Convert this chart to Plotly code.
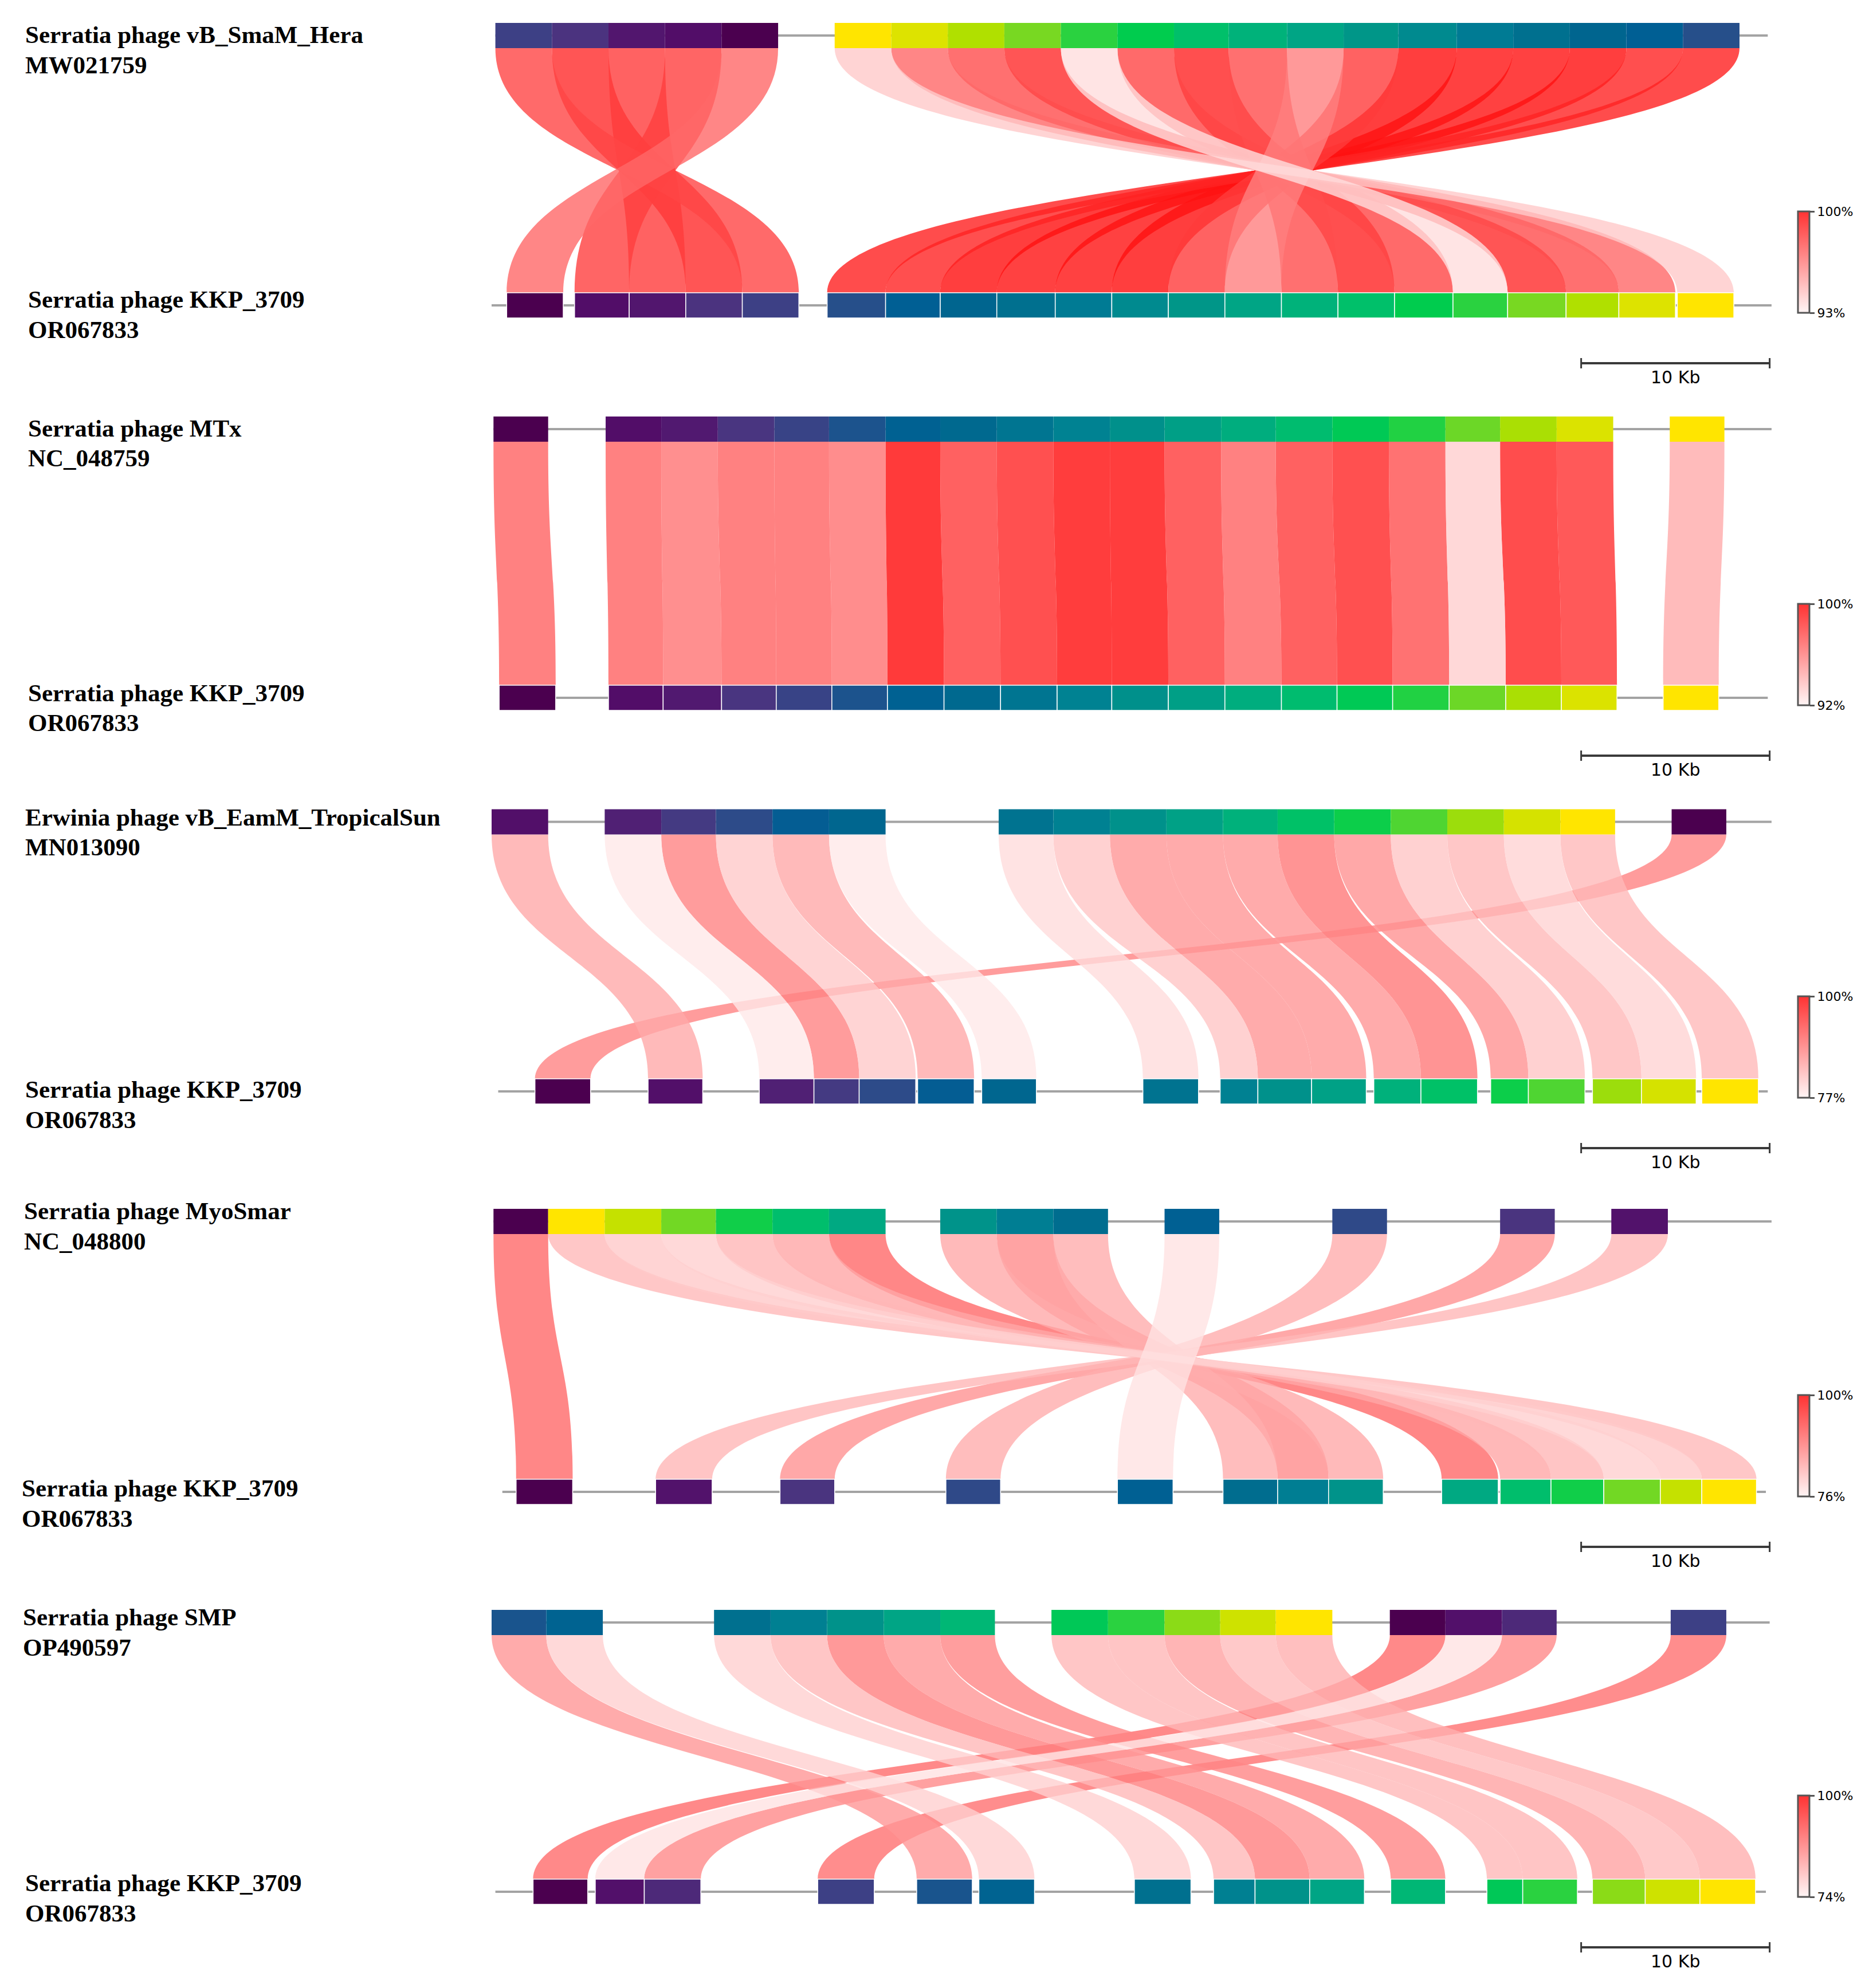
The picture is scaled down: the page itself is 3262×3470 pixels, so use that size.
import plotly.graph_objects as go
from plotly.colors import sample_colorscale, hex_to_rgb

# page size (px) and the kb -> pixel scale
W, H = 3262, 3470
OFF = 8                      # default body margin of the html page
FIG_W, FIG_H = W - 2 * OFF, H - 2 * OFF
PX_PER_KB = 32.9
X0 = 858                     # page pixel column of 0 kb

# ---------------- data (kb positions, % identity) ----------------
REF_NAME = "Serratia phage KKP_3709"
REF_ACC = "OR067833"

QUERY_NAMES = ["Serratia phage vB_SmaM_Hera", "Serratia phage MTx",
               "Erwinia phage vB_EamM_TropicalSun", "Serratia phage MyoSmar",
               "Serratia phage SMP"]
QUERY_ACCS = ["MW021759", "NC_048759", "MN013090", "NC_048800", "OP490597"]
ID_MIN = [93, 92, 77, 76, 74]

# genome line spans (kb): query, reference
QUERY_SPAN = [(0.2, 67.7), (0.1, 67.9), (0.0, 67.9), (0.1, 67.9), (0.0, 67.8)]
REF_SPAN = [(0.0, 67.9), (0.4, 67.7), (0.35, 67.7), (0.57, 67.6), (0.2, 67.6)]

# panel 1 : Hera
HERA_BLOCKS = [(0.2, 3.2), (3.2, 6.2), (6.2, 9.2), (9.2, 12.2), (12.2, 15.2),
               (18.2, 21.2), (21.2, 24.2), (24.2, 27.2), (27.2, 30.2), (30.2, 33.2),
               (33.2, 36.2), (36.2, 39.1), (39.1, 42.2), (42.2, 45.2), (45.2, 48.1),
               (48.1, 51.2), (51.2, 54.2), (54.2, 57.2), (57.2, 60.2), (60.2, 63.2),
               (63.2, 66.2)]
HERA_REF = [(0.8, 3.8), (4.4, 7.3), (7.3, 10.3), (10.3, 13.3), (13.3, 16.3),
            (17.8, 20.9), (20.9, 23.8), (23.8, 26.8), (26.8, 29.9), (29.9, 32.9),
            (32.9, 35.9), (35.9, 38.9), (38.9, 41.9), (41.9, 44.9), (44.9, 47.9),
            (47.9, 51.0), (51.0, 53.9), (53.9, 57.0), (57.0, 59.8), (59.8, 62.8),
            (62.9, 65.9)]
HERA_MATCH = [4, 3, 2, 1, 0, 20, 19, 18, 17, 16, 15, 14, 13, 12, 11, 10, 9, 8, 7, 6, 5]
HERA_ID = [98.0, 98.8, 98.3, 98.2, 97.0, 94.2, 97.0, 97.8, 98.8, 93.6, 98.0,
           99.0, 97.8, 96.3, 98.3, 99.6, 99.5, 99.5, 99.6, 99.0, 99.1]

# panel 2 : MTx
MTX_BLOCKS = [(0.1, 3.0), (6.05, 9.0), (9.0, 12.0), (12.0, 15.0), (15.0, 17.9),
              (17.9, 20.9), (20.9, 23.8), (23.8, 26.8), (26.8, 29.8), (29.8, 32.8),
              (32.8, 35.7), (35.7, 38.7), (38.7, 41.6), (41.6, 44.6), (44.6, 47.6),
              (47.6, 50.6), (50.6, 53.5), (53.5, 56.5), (56.5, 59.5), (62.5, 65.4)]
MTX_REF = [(0.4, 3.4), (6.2, 9.1), (9.1, 12.2), (12.2, 15.1), (15.1, 18.05),
           (18.05, 21.0), (21.0, 24.0), (24.0, 27.0), (27.0, 30.0), (30.0, 32.9),
           (32.9, 35.9), (35.9, 38.9), (38.9, 41.9), (41.9, 44.85), (44.85, 47.8),
           (47.8, 50.8), (50.8, 53.8), (53.8, 56.75), (56.75, 59.7), (62.15, 65.1)]
MTX_MATCH = list(range(20))
MTX_ID = [96.8, 96.8, 96.2, 96.8, 96.8, 96.3, 99.7, 98.1, 98.8, 99.6, 99.6,
          98.1, 96.8, 98.1, 98.8, 97.4, 93.2, 98.9, 98.4, 94.4]

# panel 3 : TropicalSun
TROP_BLOCKS = [(0.0, 3.0), (6.0, 9.0), (9.0, 11.9), (11.9, 14.9), (14.9, 17.9),
               (17.9, 20.9), (26.9, 29.8), (29.8, 32.8), (32.8, 35.8), (35.8, 38.8),
               (38.8, 41.7), (41.7, 44.7), (44.7, 47.7), (47.7, 50.7), (50.7, 53.7),
               (53.7, 56.7), (56.7, 59.6), (62.6, 65.5)]
TROP_REF = [(2.3, 5.25), (8.3, 11.2), (14.2, 17.1), (17.1, 19.5), (19.5, 22.5),
            (22.6, 25.6), (26.0, 28.9), (34.55, 37.5), (38.65, 40.65), (40.65, 43.5),
            (43.5, 46.4), (46.8, 49.3), (49.3, 52.3), (53.0, 55.0), (55.0, 58.0),
            (58.4, 61.0), (61.0, 63.9), (64.2, 67.2)]
TROP_MATCH = [1, 2, 3, 4, 5, 6, 7, 8, 9, 10, 11, 12, 13, 14, 15, 16, 17, 0]
TROP_ID = [84.0, 77.9, 87.6, 80.9, 84.0, 77.9, 79.1, 81.2, 85.8, 85.8, 85.8,
           88.5, 86.1, 81.2, 82.4, 80.0, 82.4, 87.6]

# panel 4 : MyoSmar
MYO_BLOCKS = [(0.1, 3.0), (3.0, 6.0), (6.0, 9.0), (9.0, 11.9), (11.9, 14.9),
              (14.9, 17.9), (17.9, 20.9), (23.8, 26.8), (26.8, 29.8), (29.8, 32.7),
              (35.7, 38.6), (44.6, 47.5), (53.5, 56.4), (59.4, 62.4)]
MYO_REF = [(1.3, 4.3), (8.7, 11.7), (15.3, 18.2), (24.1, 27.0), (33.2, 36.15),
           (38.8, 41.7), (41.7, 44.4), (44.4, 47.3), (50.4, 53.4), (53.5, 56.2),
           (56.2, 59.0), (59.0, 62.0), (62.0, 64.2), (64.2, 67.1)]
MYO_MATCH = [0, 13, 12, 11, 10, 9, 8, 7, 6, 5, 4, 3, 2, 1]
MYO_ID = [89.6, 81.7, 80.1, 79.5, 82.0, 83.6, 89.6, 83.3, 86.1, 82.9, 77.6,
          82.9, 85.5, 82.0]

# panel 5 : SMP
SMP_BLOCKS = [(0.0, 2.9), (2.9, 5.9), (11.8, 14.8), (14.8, 17.8), (17.8, 20.8),
              (20.8, 23.8), (23.8, 26.7), (29.7, 32.7), (32.7, 35.7), (35.7, 38.65),
              (38.65, 41.6), (41.6, 44.6), (47.65, 50.6), (50.6, 53.6), (53.6, 56.5),
              (62.55, 65.5)]
SMP_REF = [(2.2, 5.1), (5.5, 8.1), (8.1, 11.1), (17.3, 20.3), (22.55, 25.5),
           (25.85, 28.8), (34.1, 37.1), (38.3, 40.5), (40.5, 43.4), (43.4, 46.3),
           (47.7, 50.6), (52.8, 54.7), (54.7, 57.6), (58.4, 61.2), (61.2, 64.1),
           (64.1, 67.05)]
SMP_MATCH = [4, 5, 6, 7, 8, 9, 10, 11, 12, 13, 14, 15, 0, 1, 2, 3]
SMP_ID = [83.9, 77.8, 77.8, 80.2, 86.3, 83.9, 85.6, 80.2, 80.5, 82.6, 79.8,
          81.2, 88.4, 75.7, 85.3, 88.0]

SCALE_KB = 10

# ---------------- style / layout ----------------
BLOCK_ANCHORS = ["#4b004f", "#520d68", "#52166e", "#4b337f", "#3d4085", "#264f8a",
                 "#005f94", "#00658f", "#00708f", "#007b94", "#008a8f", "#009688",
                 "#00a585", "#00b27a", "#00c06a", "#00cc4e", "#2ad240", "#78d822",
                 "#b0e000", "#dde300", "#ffe500"]
BLOCK_SCALE = [[i / (len(BLOCK_ANCHORS) - 1), "rgb(%d,%d,%d)" % hex_to_rgb(c)]
               for i, c in enumerate(BLOCK_ANCHORS)]

# (top genome centre, bottom genome centre) in page pixels
PANEL_Y = [(62, 533), (749, 1218), (1434.5, 1905), (2132, 2604), (2832, 3302)]
LABEL_Y = [(60, 522), (747, 1209), (1426, 1901), (2113, 2597), (2822, 3286)]
LABEL_X = [(42, 47), (47, 47), (42, 42), (40, 36), (38, 42)]
CBAR_Y = [(369, 546), (1054, 1231), (1739, 1916), (2435, 2612), (3134, 3311)]
CBAR_X = 3138
SCALE_Y = [634, 1319, 2004, 2700, 3399]
SCALE_X0 = 57.8
BLOCK_H = 44
LINE_SPACE = 53
LINK_OPACITY = 0.8

panels = [
    (HERA_BLOCKS, HERA_REF, HERA_MATCH, HERA_ID),
    (MTX_BLOCKS, MTX_REF, MTX_MATCH, MTX_ID),
    (TROP_BLOCKS, TROP_REF, TROP_MATCH, TROP_ID),
    (MYO_BLOCKS, MYO_REF, MYO_MATCH, MYO_ID),
    (SMP_BLOCKS, SMP_REF, SMP_MATCH, SMP_ID),
]

A_LO, A_HI = 0.04, 0.80      # apparent redness at the low / high end of the bar


def px(x):
    return (x - OFF) / FIG_W


def py(y):
    return 1 - (y - OFF) / FIG_H


def link_color(ident, lo):
    # colour drawn at LINK_OPACITY so that a single link looks like the bar colour
    a = A_LO + (A_HI - A_LO) * (ident - lo) / (100 - lo)
    g = max(0, round(255 * (1 - a / LINK_OPACITY)))
    return f"rgb(255,{g},{g})"


def on_white(a):
    v = round(255 * (1 - a))
    return f"rgb(255,{v},{v})"


def ribbon_path(a, b, y1, y2):
    ym = (y1 + y2) / 2
    return (f"M {a[0]},{y1} C {a[0]},{ym} {b[0]},{ym} {b[0]},{y2} "
            f"L {b[1]},{y2} C {b[1]},{ym} {a[1]},{ym} {a[1]},{y1} Z")


fig = go.Figure()
shapes = []
annotations = []
serif = dict(family="Liberation Serif", size=43, color="black", weight="bold")

for p, (qblocks, rblocks, match, idents) in enumerate(panels):
    yt, yb = PANEL_Y[p]
    lo = ID_MIN[p]
    n = len(rblocks)
    ref_cols = sample_colorscale(BLOCK_SCALE, [i / (n - 1) for i in range(n)])

    # links: weakest identity drawn last (on top)
    order = sorted(range(len(qblocks)), key=lambda i: -idents[i])
    for qi in order:
        shapes.append(dict(type="path", xref="x", yref="y",
                           path=ribbon_path(qblocks[qi], rblocks[match[qi]],
                                            yt + BLOCK_H / 2, yb - BLOCK_H / 2),
                           fillcolor=link_color(idents[qi], lo), opacity=LINK_OPACITY,
                           line=dict(width=0)))

    # genome backbones
    for (s, e), y in ((QUERY_SPAN[p], yt), (REF_SPAN[p], yb)):
        shapes.append(dict(type="line", xref="x", yref="y", x0=s, x1=e, y0=y, y1=y,
                           line=dict(color="#a3a3a3", width=4)))

    # blocks
    for blk, ri in zip(qblocks, match):
        shapes.append(dict(type="rect", xref="x", yref="y", x0=blk[0], x1=blk[1],
                           y0=yt - BLOCK_H / 2, y1=yt + BLOCK_H / 2,
                           fillcolor=ref_cols[ri], line=dict(width=0)))
    for blk, col in zip(rblocks, ref_cols):
        shapes.append(dict(type="rect", xref="x", yref="y", x0=blk[0], x1=blk[1],
                           y0=yb - BLOCK_H / 2, y1=yb + BLOCK_H / 2,
                           fillcolor=col, line=dict(width=1.5, color="white")))

    # labels
    lx_t, lx_b = LABEL_X[p]
    ly_t, ly_b = LABEL_Y[p]
    for txt, x, y in ((QUERY_NAMES[p], lx_t, ly_t), (QUERY_ACCS[p], lx_t, ly_t + LINE_SPACE),
                      (REF_NAME, lx_b, ly_b), (REF_ACC, lx_b, ly_b + LINE_SPACE)):
        annotations.append(dict(text=txt, x=px(x), y=py(y), xref="paper", yref="paper",
                                xanchor="left", yanchor="middle", showarrow=False, font=serif))

    # scale bar
    sy = SCALE_Y[p]
    x1 = SCALE_X0 + SCALE_KB
    shapes.append(dict(type="line", xref="x", yref="y", x0=SCALE_X0, x1=x1, y0=sy, y1=sy,
                       line=dict(color="#3a3a3a", width=4)))
    for xx in (SCALE_X0, x1):
        shapes.append(dict(type="line", xref="x", yref="y", x0=xx, x1=xx, y0=sy - 9, y1=sy + 9,
                           line=dict(color="#3a3a3a", width=3)))
    annotations.append(dict(text=f"{SCALE_KB} Kb", x=(SCALE_X0 + x1) / 2, y=sy + 24,
                            xref="x", yref="y", showarrow=False, yanchor="middle",
                            font=dict(family="DejaVu Sans", size=30, color="black")))

    # identity colour bar
    c0, c1 = CBAR_Y[p]
    fig.add_trace(go.Scatter(
        x=[None, None], y=[None, None], mode="markers", showlegend=False, hoverinfo="skip",
        marker=dict(color=[lo, 100], cmin=lo, cmax=100,
                    colorscale=[[0, on_white(A_LO)], [1, on_white(A_HI)]],
                    showscale=True,
                    colorbar=dict(x=px(CBAR_X), xanchor="left", xref="paper",
                                  y=py((c0 + c1) / 2), yanchor="middle", yref="paper",
                                  len=c1 - c0, lenmode="pixels",
                                  thickness=20, thicknessmode="pixels",
                                  xpad=0, ypad=0,
                                  outlinewidth=3, outlinecolor="#555555",
                                  tickvals=[lo, 100], ticktext=[f"{lo}%", "100%"],
                                  ticks="outside", ticklen=8, tickwidth=3, tickcolor="#555555",
                                  tickfont=dict(family="DejaVu Sans", size=22, color="black")))))

# faint rule along the top edge of the page
shapes.append(dict(type="line", xref="paper", yref="paper", x0=px(619), x1=1, y0=py(3),
                   y1=py(3), line=dict(color="#d4d4d4", width=3)))

fig.update_layout(
    width=FIG_W, height=FIG_H, margin=dict(l=0, r=0, t=0, b=0),
    paper_bgcolor="white", plot_bgcolor="white",
    xaxis=dict(range=[-(X0 - OFF) / PX_PER_KB, (FIG_W - (X0 - OFF)) / PX_PER_KB],
               visible=False, fixedrange=True),
    yaxis=dict(range=[OFF + FIG_H, OFF], visible=False, fixedrange=True),
    shapes=shapes, annotations=annotations,
)

fig.write_html("out.html")
